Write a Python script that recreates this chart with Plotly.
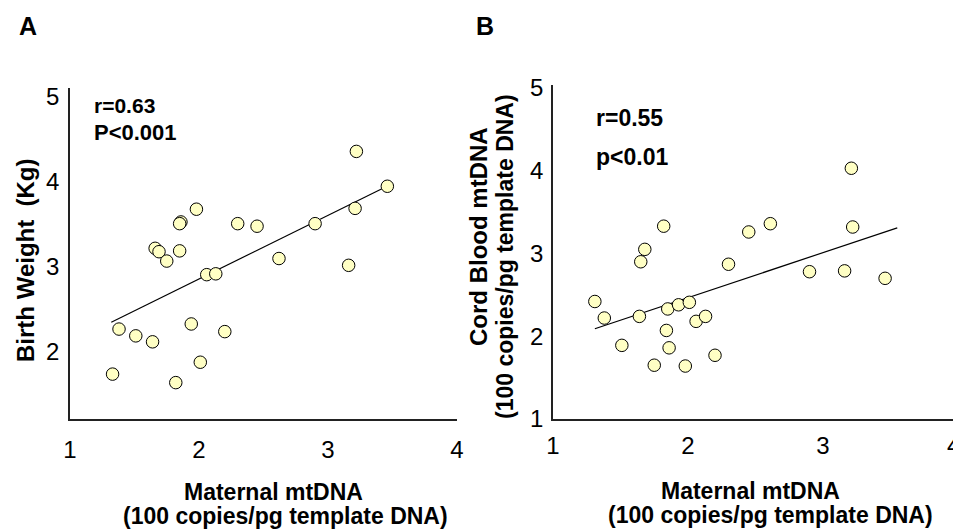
import plotly.graph_objects as go

# ---------------- Data ----------------
# Panel A: Maternal mtDNA vs Birth Weight
a_maternal = [3.22, 3.46, 3.21, 2.90, 1.98, 1.86, 1.85, 2.30, 2.45, 1.66, 1.69, 1.85,
              1.75, 2.62, 3.16, 2.06, 2.13, 1.38, 1.51, 1.64, 1.94, 2.20, 2.01, 1.33, 1.82]
a_birth_weight = [4.36, 3.95, 3.69, 3.51, 3.68, 3.53, 3.51, 3.51, 3.48, 3.22, 3.18, 3.19,
                  3.07, 3.10, 3.02, 2.91, 2.92, 2.27, 2.19, 2.12, 2.33, 2.24, 1.88, 1.74, 1.64]
a_fit_x = [1.32, 3.43]
a_fit_y = [2.35, 3.93]

# Panel B: Maternal mtDNA vs Cord Blood mtDNA
b_maternal = [3.21, 3.22, 2.61, 2.45, 1.82, 1.68, 1.65, 2.30, 2.90, 3.16, 3.46, 1.31, 1.38,
              1.64, 1.85, 1.93, 2.01, 2.06, 2.13, 1.84, 1.51, 1.86, 1.75, 1.98, 2.20]
b_cord = [4.03, 3.32, 3.36, 3.26, 3.33, 3.05, 2.90, 2.87, 2.78, 2.79, 2.70, 2.42, 2.22,
          2.24, 2.33, 2.38, 2.41, 2.18, 2.24, 2.07, 1.89, 1.86, 1.65, 1.64, 1.77]
b_fit_x = [1.31, 3.55]
b_fit_y = [2.09, 3.31]

x_ticks = [1, 2, 3, 4]
b_x_ticks = [1, 2, 3]      # the "4" of panel B sits at the page edge; drawn as a label below
a_y_ticks = [2, 3, 4, 5]
b_y_ticks = [1, 2, 3, 4, 5]

# ---------------- Figure ----------------
W, H = 961, 531
OFF = 8  # page body margin of the browser
FONT = "Liberation Sans, Arial, sans-serif"
MARKER = dict(size=12.5, color="#FFFFC4", line=dict(color="black", width=1))

fig = go.Figure()
fig.add_trace(go.Scatter(x=a_fit_x, y=a_fit_y, mode="lines",
                         line=dict(color="black", width=1.2), xaxis="x", yaxis="y",
                         showlegend=False, hoverinfo="skip"))
fig.add_trace(go.Scatter(x=a_maternal, y=a_birth_weight, mode="markers", marker=MARKER,
                         xaxis="x", yaxis="y", showlegend=False))
fig.add_trace(go.Scatter(x=b_fit_x, y=b_fit_y, mode="lines",
                         line=dict(color="black", width=1.2), xaxis="x2", yaxis="y2",
                         showlegend=False, hoverinfo="skip"))
fig.add_trace(go.Scatter(x=b_maternal, y=b_cord, mode="markers", marker=MARKER,
                         xaxis="x2", yaxis="y2", showlegend=False))

def px(x):
    return (x - OFF) / W

def py(y):
    return 1 - (y - OFF) / H

axis_common = dict(showline=True, linecolor="#222", linewidth=1.5, showgrid=False,
                   zeroline=False, ticks="", automargin=False,
                   tickfont=dict(family=FONT, size=24, color="black"), mirror=False)

fig.update_layout(
    width=W, height=H,
    margin=dict(l=0, r=0, t=0, b=0),
    paper_bgcolor="white", plot_bgcolor="white",
    xaxis=dict(domain=[px(70), px(457)], range=[1, 4], tickvals=x_ticks, anchor="y",
               ticklabelstandoff=8, **axis_common),
    yaxis=dict(domain=[py(419), py(88)], range=[1.212, 5.106], tickvals=a_y_ticks,
               anchor="x", ticklabelstandoff=4, **axis_common),
    xaxis2=dict(domain=[px(553), px(958)], range=[1, 4], tickvals=b_x_ticks, anchor="y2",
                ticklabelstandoff=4, **axis_common),
    yaxis2=dict(domain=[py(419), py(85)], range=[1, 5.036], tickvals=b_y_ticks,
                anchor="x2", ticklabelstandoff=3, **axis_common),
)

def ann(text, x, y, size=23, xanchor="center", angle=0, bold=True):
    t = f"<b>{text}</b>" if bold else text
    fig.add_annotation(text=t, x=px(x), y=py(y), xref="paper", yref="paper",
                       xanchor=xanchor, yanchor="middle", showarrow=False,
                       textangle=angle, font=dict(family=FONT, size=size, color="black"))

ann("A", 28, 26, size=25)
ann("B", 485, 26, size=25)
ann("r=0.63", 92, 105, size=21, xanchor="left")
ann("P&lt;0.001", 92, 132, size=22, xanchor="left")
ann("r=0.55", 594, 118, size=23, xanchor="left")
ann("p&lt;0.01", 594, 157, size=23, xanchor="left")
ann("Maternal mtDNA", 273, 492)
ann("(100 copies/pg template DNA)", 285, 516)
ann("Maternal mtDNA", 750, 491)
ann("(100 copies/pg template DNA)", 770, 515)
ann("Birth Weight\u00a0\u00a0(Kg)", 25, 260, size=24, angle=-90)
ann("Cord Blood mtDNA", 478, 237, size=24, angle=-90)
ann("(100 copies/pg template DNA)", 505, 257, angle=-90)
ann(str(x_ticks[-1]), 953, 445, size=24, bold=False)

fig.write_html("out.html")
